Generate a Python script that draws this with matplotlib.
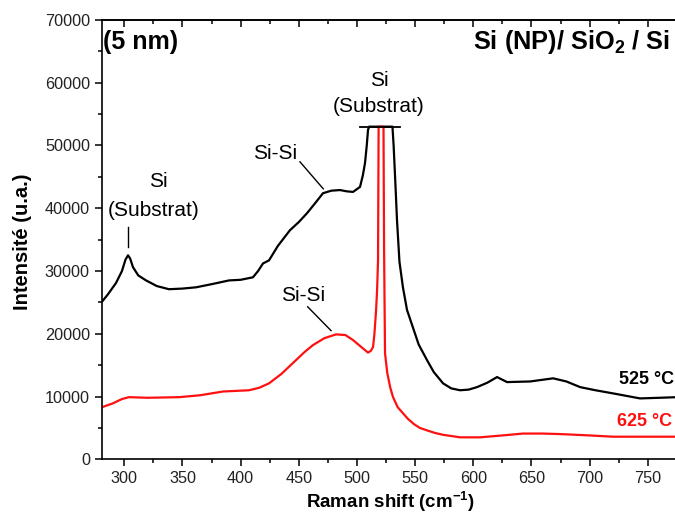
import numpy as np
import matplotlib
matplotlib.use('Agg')
import matplotlib.pyplot as plt
from matplotlib.ticker import MultipleLocator

plt.rcParams['font.family'] = ['Liberation Sans', 'DejaVu Sans']
plt.rcParams['mathtext.fontset'] = 'custom'
plt.rcParams['mathtext.rm'] = 'Liberation Sans'
plt.rcParams['mathtext.bf'] = 'Liberation Sans:bold'

# spectra (Raman shift cm-1, intensity u.a.)
x_525 = [280.8, 286, 292.9, 298, 301, 303.2, 305, 307.5, 312, 318.7, 328, 338.4, 350, 361.6,
         375, 390, 400, 410.6, 415, 419.2, 424.4, 432, 442.4, 450, 457, 464, 470.8, 478, 485.4,
         491, 496.6, 502.6, 505, 506.9, 508.4, 509.5, 510.5, 530.5, 531.5, 533, 534.4, 536.5,
         539.5, 543, 548.1, 553, 560.2, 566, 574, 581, 588.6, 596, 603.2, 612, 620.4, 629, 648.8,
         668.6, 680, 691.8, 705, 720.1, 743.3, 760, 775]
y_525 = [25100, 26300, 28100, 30000, 31800, 32500, 32000, 30600, 29300, 28500, 27600, 27100,
         27200, 27400, 27900, 28500, 28600, 29000, 30000, 31200, 31700, 34000, 36500, 37800,
         39200, 40800, 42400, 42800, 42900, 42700, 42600, 43400, 45200, 47200, 50000, 52500,
         53000, 53000, 50000, 44000, 38100, 31500, 27400, 23800, 21000, 18300, 15800, 13900,
         12100, 11300, 11000, 11100, 11500, 12200, 13100, 12300, 12400, 12900, 12400, 11500,
         11000, 10500, 9700, 9800, 9900]

x_625 = [280.8, 290, 298, 304, 320, 347.2, 365, 384.9, 407.3, 416, 424.4, 435, 447.6, 455,
         462.2, 472, 482, 490, 496.6, 503, 509.5, 512, 513.8, 515, 516.4, 517.3, 518.1, 518.6,
         522.8, 523.3, 524.1, 526, 528.5, 531, 535, 539.7, 544, 549, 554, 560.3, 567, 574, 588.6,
         605.8, 625, 642.7, 660, 677.1, 700, 720.1, 745, 775]
y_625 = [8300, 8900, 9600, 9900, 9800, 9900, 10200, 10800, 11000, 11400, 12100, 13600, 15800,
         17100, 18200, 19300, 19900, 19800, 19000, 18000, 17000, 17300, 17900, 20000, 23700,
         27000, 31700, 53000, 53000, 33300, 16900, 13800, 11500, 9900, 8300, 7300, 6400, 5600,
         5000, 4600, 4200, 3900, 3500, 3500, 3800, 4100, 4100, 4000, 3800, 3600, 3600, 3600]

fig = plt.figure(figsize=(6.75, 5.16), dpi=100)
ax = fig.add_axes([0.1507, 0.1099, 0.878, 0.8514])

ax.plot(x_525, y_525, color='black', lw=1.6)
ax.plot(x_625, y_625, color='#ff1010', lw=1.6)

# cut bar over the substrate peak
ax.plot([502.6, 537], [52900, 52900], color='black', lw=1.3)

ax.set_xlim(280.6, 790)
ax.set_ylim(0, 70000)
ax.xaxis.set_major_locator(MultipleLocator(50))
ax.xaxis.set_minor_locator(MultipleLocator(25))
ax.yaxis.set_major_locator(MultipleLocator(10000))
ax.yaxis.set_minor_locator(MultipleLocator(5000))
ax.tick_params(which='both', direction='out', top=False, right=False, labelsize=11.7,
               width=1.1, labelcolor='#222222')
ax.tick_params(which='major', length=5)
ax.tick_params(which='minor', length=3)
for s in ax.spines.values():
    s.set_linewidth(1.2)

# top axis: ticks pointing inward, no labels
top = ax.secondary_xaxis('top')
top.xaxis.set_major_locator(MultipleLocator(50))
top.xaxis.set_minor_locator(MultipleLocator(25))
top.tick_params(which='both', direction='in', labeltop=False, width=1.1)
top.tick_params(which='major', length=5)
top.tick_params(which='minor', length=3)
top.spines['top'].set_linewidth(1.2)

ax.set_xlabel('Raman shift (cm$^{\\mathbf{-1}}$)', fontsize=13.5, fontweight='bold')
ax.set_ylabel('Intensité (u.a.)', fontsize=14.5, fontweight='bold')
ax.xaxis.set_label_coords(0.4865, -0.068)
ax.yaxis.set_label_coords(-0.118, 0.495)

ax.text(282, 66500, '(5 nm)', fontsize=18, fontweight='bold', va='center', ha='left')
ax.text(599.8, 66500, 'Si (NP)/ SiO$_\\mathbf{2}$ / Si', fontsize=18.3, fontweight='bold',
        va='center', ha='left')

ax.text(329.2, 44200, 'Si', fontsize=15, ha='center', va='center')
ax.text(324.9, 39700, '(Substrat)', fontsize=15, ha='center', va='center')
ax.plot([303.4, 303.4], [33800, 37000], color='black', lw=1)

ax.text(519, 60400, 'Si', fontsize=15, ha='center', va='center')
ax.text(519, 56200, '(Substrat)', fontsize=15, ha='center', va='center')

ax.text(429.5, 48700, 'Si-Si', fontsize=15, ha='center', va='center')
ax.plot([451, 471], [47400, 43100], color='black', lw=1)
ax.text(453.9, 26100, 'Si-Si', fontsize=15, ha='center', va='center')
ax.plot([457.6, 477.7], [24300, 20500], color='black', lw=1)

ax.text(725.3, 12700, '525 °C', fontsize=13, fontweight='bold', ha='left', va='center')
ax.text(723.8, 6100, '625 °C', fontsize=13, fontweight='bold', ha='left', va='center',
        color='#ff1010')

fig.savefig('out.png', dpi=100)
